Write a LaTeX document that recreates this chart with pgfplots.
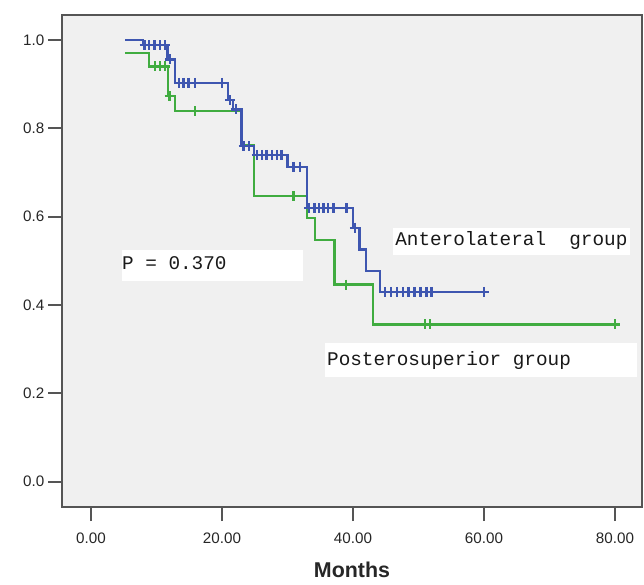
\documentclass[border=0pt]{standalone}
\usepackage{fontspec}
\setmainfont{Liberation Sans}
\newfontfamily\monofont{Liberation Mono}
\usepackage{pgfplots}
\pgfplotsset{compat=1.18}
\definecolor{kmblue}{RGB}{62,86,176}
\definecolor{kmgreen}{RGB}{64,172,64}
\definecolor{panel}{RGB}{240,240,240}
\definecolor{frame}{RGB}{85,85,85}

\begin{document}
\begin{tikzpicture}
\begin{axis}[
    scale only axis,
    width=289.7pt, height=246pt,
    xmin=-4.38, xmax=84.08,
    ymin=-0.0573, ymax=1.0566,
    xtick={0,20,40,60,80},
    ytick={0,0.2,0.4,0.6,0.8,1},
    tick pos=left,
    tick align=outside,
    major tick length=7pt,
    tick style={draw=frame, line width=1pt},
    axis line style={draw=frame, line width=1pt},
    axis background/.style={fill=panel},
    ticklabel style={font=\fontsize{7.6}{9}\selectfont, text=black!85},
    /pgf/number format/assume math mode=true,
    xticklabel style={yshift=-2.5pt, /pgf/number format/.cd, fixed, fixed zerofill, precision=2},
    yticklabel style={xshift=1.5pt, /pgf/number format/.cd, fixed, fixed zerofill, precision=1},
    xlabel={Months},
    xlabel style={at={(axis description cs:0.5,-0.128)}, anchor=center,
        font=\fontsize{10.7}{12}\selectfont\bfseries, text=black!85},
]

% white boxes behind the text
\fill[white] (axis cs:4.69,0.455) rectangle (axis cs:32.4,0.525);
\fill[white] (axis cs:46.1,0.513) rectangle (axis cs:82.3,0.574);
\fill[white] (axis cs:35.7,0.238) rectangle (axis cs:83.3,0.313);

% Posterosuperior group
\addplot[const plot, kmgreen, line width=1.2pt] coordinates {
    (5.2,0.971) (8.9,0.940) (11.8,0.873) (12.8,0.839) (23.0,0.762)
    (24.9,0.647) (33.0,0.597) (34.2,0.547) (37.2,0.446) (43.1,0.356)
    (80.0,0.356)
};
\addplot[only marks, mark=+, mark size=2.5pt, kmgreen, mark options={line width=1.2pt}] coordinates {
    (9.8,0.940) (10.5,0.940) (11.3,0.940) (12.0,0.873) (15.9,0.839)
    (30.9,0.647) (38.9,0.446) (51.0,0.356) (51.8,0.356) (80.0,0.356)
};

% Anterolateral group
\addplot[const plot, kmblue, line width=1.2pt] coordinates {
    (5.2,1.000) (7.9,0.988) (11.7,0.956) (12.8,0.903) (20.9,0.864)
    (21.7,0.843) (23.0,0.760) (24.9,0.740) (30.0,0.713) (33.0,0.619)
    (40.0,0.575) (41.0,0.526) (42.0,0.477) (44.1,0.430) (60.0,0.430)
};
\addplot[only marks, mark=+, mark size=2.5pt, kmblue, mark options={line width=1.2pt}] coordinates {
    (8.2,0.988) (8.9,0.988) (9.7,0.988) (10.5,0.988) (11.3,0.988)
    (12.1,0.956)
    (13.4,0.903) (14.1,0.903) (14.9,0.903) (15.9,0.903) (20.0,0.903)
    (21.2,0.864) (22.1,0.843)
    (23.3,0.760) (24.1,0.760)
    (25.3,0.740) (26.1,0.740) (26.8,0.740) (27.6,0.740) (28.4,0.740) (29.1,0.740)
    (30.9,0.713) (31.9,0.713)
    (33.3,0.619) (34.1,0.619) (34.8,0.619) (35.5,0.619) (36.2,0.619) (37.0,0.619) (39.0,0.619)
    (40.3,0.575)
    (44.9,0.430) (45.8,0.430) (46.7,0.430) (47.6,0.430) (48.5,0.430)
    (49.4,0.430) (50.3,0.430) (51.2,0.430) (52.0,0.430) (60.0,0.430)
};

% labels
\node[anchor=base west, inner sep=0pt, font=\monofont\fontsize{9.67}{11}\selectfont, text=black!90]
    at (axis cs:4.69,0.481) {P = 0.370};
\node[anchor=base west, inner sep=0pt, font=\monofont\fontsize{9.67}{11}\selectfont, text=black!90]
    at (axis cs:46.4,0.534) {Anterolateral\ \ group};
\node[anchor=base west, inner sep=0pt, font=\monofont\fontsize{9.67}{11}\selectfont, text=black!90]
    at (axis cs:36.0,0.264) {Posterosuperior group};

\end{axis}
\path (current axis.south west) ++(-31.15pt,-37pt) rectangle ([shift={(1.15pt,7.5pt)}]current axis.north east);
\end{tikzpicture}
\end{document}
